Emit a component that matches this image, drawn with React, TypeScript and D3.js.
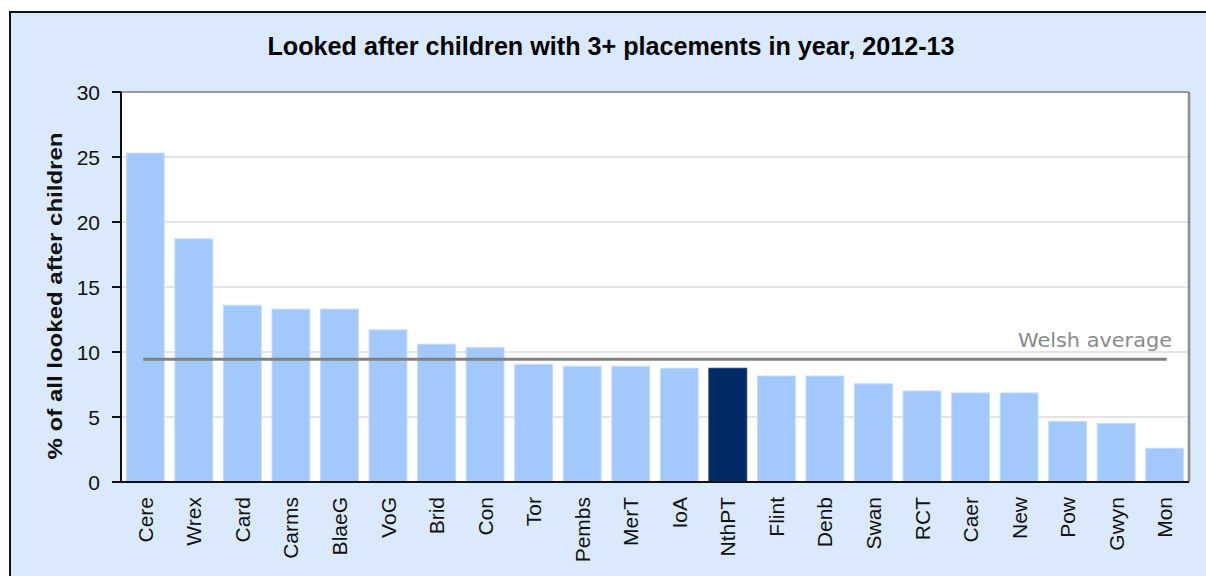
import React from "react";
import * as d3 from "d3";

const categories = ["Cere","Wrex","Card","Carms","BlaeG","VoG","Brid","Con","Tor","Pembs","MerT","IoA","NthPT","Flint","Denb","Swan","RCT","Caer","New","Pow","Gwyn","Mon"];
const values = [25.3,18.7,13.6,13.3,13.3,11.7,10.6,10.35,9.05,8.9,8.9,8.75,8.75,8.15,8.15,7.55,7.0,6.85,6.85,4.65,4.5,2.6];
const highlight = ["NthPT"];
const welshAverage = 9.45;
const yTicks = [0,5,10,15,20,25,30];
const title = "Looked after children with 3+ placements in year, 2012-13";
const yTitle = "% of all looked after children";
const avgLabel = "Welsh average";

export default function App() {
  const W = 1206, H = 576;
  const left = 121, right = 1189, top = 92, bottom = 482;
  const x = d3.scaleBand<string>().domain(categories).range([left, right]).paddingInner(0.22).paddingOuter(0.11);
  const y = d3.scaleLinear().domain([0, 30]).range([bottom, top]);
  const bw = x.bandwidth();
  const firstC = (x(categories[0]) as number) + bw / 2;
  const lastC = (x(categories[categories.length - 1]) as number) + bw / 2;
  const arial = "Arial, 'Liberation Sans', sans-serif";
  return (
    <svg width={W} height={H} style={{ position: "absolute", left: 0, top: 0 }}>
      <rect x={0} y={0} width={W} height={H} fill="#ffffff" />
      <rect x={10} y={12} width={1400} height={800} fill="#dbe9fd" stroke="#111" strokeWidth={2} />
      <text x={611} y={55} textAnchor="middle" fontFamily={arial} fontWeight="bold" fontSize={25} textLength={687} lengthAdjust="spacingAndGlyphs" fill="#000">{title}</text>
      <rect x={left} y={top} width={right - left} height={bottom - top} fill="#ffffff" />
      {yTicks.filter(t => t > 0 && t < 30).map(t => (
        <line key={"g" + t} x1={left} x2={right} y1={y(t)} y2={y(t)} stroke="#e4e4e4" strokeWidth={2} />
      ))}
      <line x1={left} x2={right} y1={top} y2={top} stroke="#9a9a9a" strokeWidth={2} />
      <line x1={right} x2={right} y1={top} y2={bottom} stroke="#8c8c8c" strokeWidth={2.5} />
      {categories.map((c, i) => {
        const hl = highlight.includes(c);
        return (
          <rect key={c} x={x(c)} y={y(values[i])} width={bw} height={y(0) - y(values[i])}
            fill={hl ? "#002b66" : "#a3c9fc"} stroke={hl ? "#1a3a70" : "#c2dcfd"} strokeWidth={1} />
        );
      })}
      <line x1={firstC - 2} x2={lastC + 2} y1={y(welshAverage)} y2={y(welshAverage)} stroke="#808080" strokeWidth={3} />
      <text x={1172} y={347} textAnchor="end" fontFamily="'DejaVu Sans', Verdana, sans-serif" fontSize={20} textLength={154} lengthAdjust="spacingAndGlyphs" fill="#8a8a8a">{avgLabel}</text>
      <line x1={left} x2={left} y1={top} y2={bottom} stroke="#111" strokeWidth={2} />
      <line x1={112} x2={right} y1={bottom} y2={bottom} stroke="#111" strokeWidth={2} />
      {yTicks.map(t => (
        <g key={"t" + t}>
          <line x1={112} x2={left} y1={y(t)} y2={y(t)} stroke="#111" strokeWidth={2} />
          <text x={100} y={y(t)} dy="0.36em" textAnchor="end" fontFamily={arial} fontSize={21} fill="#111">{t}</text>
        </g>
      ))}
      {categories.map(c => {
        const cx = (x(c) as number) + bw / 2;
        return (
          <text key={"l" + c} transform={`translate(${cx},497) rotate(-90)`} textAnchor="end" dy="0.36em" fontFamily={arial} fontSize={21} fill="#111">{c}</text>
        );
      })}
      <text transform={`translate(62,296) rotate(-90)`} textAnchor="middle" fontFamily={arial} fontWeight="bold" fontSize={21} textLength={327} lengthAdjust="spacingAndGlyphs" fill="#111">{yTitle}</text>
    </svg>
  );
}
